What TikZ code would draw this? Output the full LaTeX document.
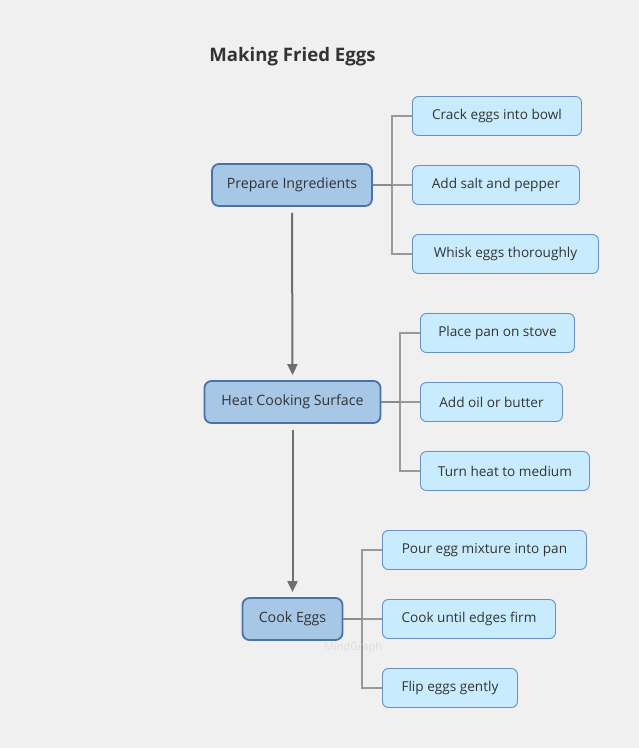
\documentclass[tikz,border=0pt]{standalone}
\usepackage{fontspec}
\setmainfont{Open Sans}
\usetikzlibrary{arrows.meta,positioning}
\definecolor{bg}{HTML}{F0F0F0}
\definecolor{mainfill}{HTML}{A7C7E7}
\definecolor{mainborder}{HTML}{4A72A8}
\definecolor{subfill}{HTML}{C8ECFD}
\definecolor{subborder}{HTML}{6A8FC0}
\definecolor{txt}{HTML}{333333}
\definecolor{link}{HTML}{999999}
\definecolor{arr}{HTML}{6E6E6E}
\tikzset{
  mainnode/.style={draw=mainborder, fill=mainfill, line width=1.8pt, rounded corners=7pt,
    text=txt, font=\fontsize{14.2}{16}\selectfont, inner sep=0pt, anchor=center},
  subnode/.style={draw=subborder, fill=subfill, line width=0.9pt, rounded corners=6pt,
    text=txt, font=\fontsize{13.6}{15}\selectfont, inner sep=0pt, anchor=west},
  bracket/.style={draw=link, line width=1.5pt},
  stem/.style={draw=arr!80, line width=2pt},
  flow/.style={draw=arr, line width=2pt, -{Triangle[length=11pt,width=10pt]}},
}
\begin{document}
\begin{tikzpicture}[x=1pt,y=-1pt]
\useasboundingbox[fill=bg] (0,0) rectangle (639,748);
\node[font=\bfseries\fontsize{18.6}{22}\selectfont, text=txt] (title) at (292.5,57) {Making Fried Eggs};

% main nodes
\node[mainnode, minimum width=160pt, minimum height=42pt] (prep) at (292,185) {Prepare Ingredients};
\node[mainnode, minimum width=176pt, minimum height=42pt] (heat) at (292.5,402) {Heat Cooking Surface};
\node[mainnode, minimum width=100pt, minimum height=42pt] (cook) at (292.5,619) {Cook Eggs};

% children of prep
\node[subnode, minimum width=169pt, minimum height=39pt] (p1) at (412,116) {Crack eggs into bowl};
\node[subnode, minimum width=167pt, minimum height=39pt] (p2) at (412,185) {Add salt and pepper};
\node[subnode, minimum width=186pt, minimum height=39pt] (p3) at (412,254) {Whisk eggs thoroughly};

% children of heat
\node[subnode, minimum width=154pt, minimum height=39pt] (h1) at (420,333) {Place pan on stove};
\node[subnode, minimum width=142pt, minimum height=39pt] (h2) at (420,402) {Add oil or butter};
\node[subnode, minimum width=169pt, minimum height=39pt] (h3) at (420,471) {Turn heat to medium};

% children of cook
\node[subnode, minimum width=204pt, minimum height=39pt] (c1) at (382,550) {Pour egg mixture into pan};
\node[subnode, minimum width=173pt, minimum height=39pt] (c2) at (382,619) {Cook until edges firm};
\node[subnode, minimum width=135pt, minimum height=39pt] (c3) at (382,688) {Flip eggs gently};

% junction coordinates
\coordinate (jp) at (392,185);
\coordinate (jh) at (400,402);
\coordinate (jc) at (362,619);

% brackets
\draw[bracket] (p1.west) -- (p1.west -| jp) -- (p3.west -| jp) -- (p3.west);
\draw[bracket] (p2.west) -- (jp);
\draw[stem] (prep.east) -- (jp);

\draw[bracket] (h1.west) -- (h1.west -| jh) -- (h3.west -| jh) -- (h3.west);
\draw[bracket] (h2.west) -- (jh);
\draw[stem] (heat.east) -- (jh);

\draw[bracket] (c1.west) -- (c1.west -| jc) -- (c3.west -| jc) -- (c3.west);
\draw[bracket] (c2.west) -- (jc);
\draw[stem] (cook.east) -- (jc);

% flow arrows
\draw[flow] ([yshift=-6pt]prep.south) -- ([yshift=5pt]heat.north);
\draw[flow] ([yshift=-6pt]heat.south) -- ([yshift=5pt]cook.north);

% watermark
\node[font=\fontsize{11}{13}\selectfont, text=black!13] (wm) at (353,648) {MindGraph};
\end{tikzpicture}
\end{document}
